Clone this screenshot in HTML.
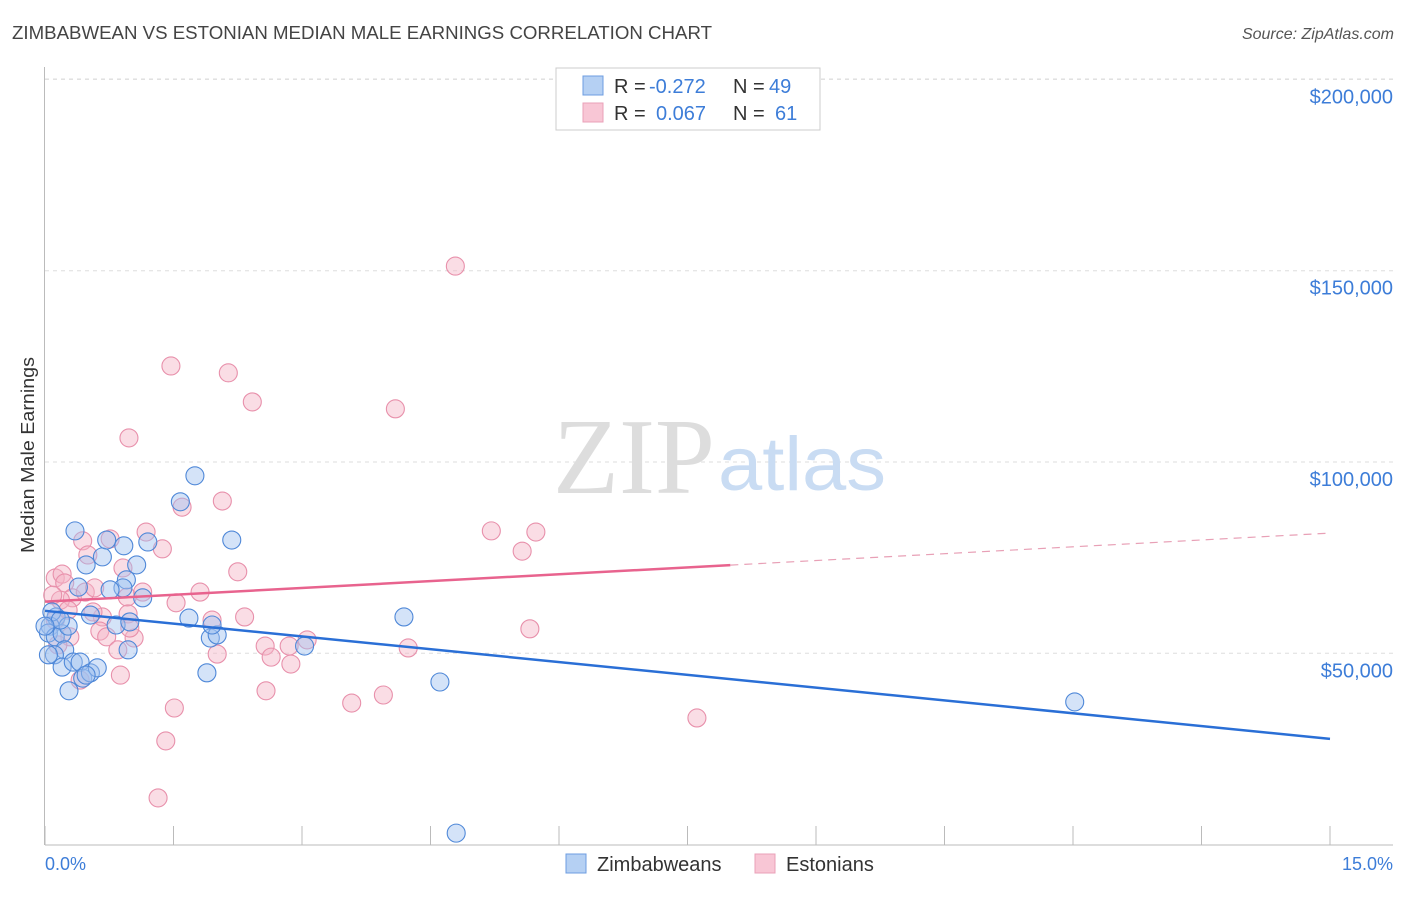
<!DOCTYPE html>
<html><head><meta charset="utf-8"><style>
body{margin:0;background:#fff;font-family:"Liberation Sans",sans-serif;}
svg text{font-family:"Liberation Sans",sans-serif;}
</style></head><body>
<svg id="chart" width="1406" height="892">
<text x="12" y="39" font-size="18" fill="#444" textLength="700" lengthAdjust="spacingAndGlyphs">ZIMBABWEAN VS ESTONIAN MEDIAN MALE EARNINGS CORRELATION CHART</text>
<text x="1394" y="39" font-size="16" fill="#555" text-anchor="end" font-style="italic">Source: ZipAtlas.com</text>
<g id="grid"></g>
<text x="553" y="493" font-size="108" fill="#ddd" style="font-family:'Liberation Serif',serif" textLength="162" lengthAdjust="spacingAndGlyphs">ZIP</text>
<text x="718" y="490" font-size="76" fill="#c9dcf3" textLength="168" lengthAdjust="spacingAndGlyphs">atlas</text>
<g id="pts"></g>
<g id="lines"></g>
<text transform="translate(34,455) rotate(-90)" font-size="18" fill="#333" text-anchor="middle" textLength="196" lengthAdjust="spacingAndGlyphs">Median Male Earnings</text>
<text x="45" y="870" font-size="18" fill="#3d7dd8">0.0%</text>
<text x="1393" y="870" font-size="18" fill="#3d7dd8" text-anchor="end">15.0%</text>
<g>
<rect x="556" y="68" width="264" height="62" fill="#fff" stroke="#ccc"/>
<rect x="583" y="76" width="20" height="19" fill="#b5d0f3" stroke="#6d9de0"/>
<rect x="583" y="103" width="20" height="19" fill="#f8c6d5" stroke="#eaa0b8"/>
<text x="614" y="93" font-size="20" fill="#333">R =</text><text x="649" y="93" font-size="20" fill="#3d7dd8">-0.272</text>
<text x="733" y="93" font-size="20" fill="#333">N =</text><text x="769" y="93" font-size="20" fill="#3d7dd8">49</text>
<text x="614" y="120" font-size="20" fill="#333">R =</text><text x="656" y="120" font-size="20" fill="#3d7dd8">0.067</text>
<text x="733" y="120" font-size="20" fill="#333">N =</text><text x="775" y="120" font-size="20" fill="#3d7dd8">61</text>
</g>
<g>
<rect x="566" y="854" width="20" height="19" fill="#b5d0f3" stroke="#6d9de0"/>
<text x="597" y="871" font-size="20" fill="#333">Zimbabweans</text>
<rect x="755" y="854" width="20" height="19" fill="#f8c6d5" stroke="#eaa0b8"/>
<text x="786" y="871" font-size="20" fill="#333">Estonians</text>
</g>
</svg>
<script>
const yTicks=[50000,100000,150000,200000];
const yTickLabels=["$50,000","$100,000","$150,000","$200,000"];
const xTicks=[0,1.5,3,4.5,6,7.5,9,10.5,12,13.5,15];
const blueX=[0.35,0.48,0.67,0.72,0.92,0.95,1.20,1.07,0.91,1.14,0.76,0.83,0.99,0.53,0.39,0.13,0.06,0.04,0.12,0.20,0.27,0.23,0.11,0.04,0.20,0.33,0.41,0.28,0.44,0.53,0.61,0.48,1.58,1.75,2.18,1.68,1.93,2.01,1.95,1.89,3.03,4.19,4.61,4.80,12.02,0.97,0.08,0.18,0.0];
const blueY=[82.0,73.1,75.2,79.6,78.1,69.2,79.1,73.1,67.1,64.5,66.6,57.4,58.2,60.0,67.3,59.5,57.1,55.3,54.3,55.1,57.1,50.9,49.6,49.6,46.4,47.7,47.7,40.2,43.5,44.9,46.2,44.3,89.6,96.4,79.6,59.2,54.0,54.8,57.4,44.9,51.9,59.5,42.5,3.0,37.3,50.9,60.8,58.7,57.1];
const pinkX=[4.79,1.47,2.14,2.42,4.09,0.98,2.07,1.60,5.21,5.73,5.57,1.18,0.76,0.44,1.37,0.50,0.12,0.20,0.23,0.32,0.47,0.58,0.96,0.91,1.14,1.81,1.53,0.67,0.56,0.97,2.33,1.95,0.64,0.72,1.04,0.85,2.01,2.57,2.85,3.06,2.64,2.87,4.24,5.66,0.18,0.12,0.27,2.25,2.58,3.58,3.95,1.51,1.41,1.32,7.61,0.09,0.29,0.99,0.15,0.88,0.41];
const pinkY=[151.2,125.1,123.3,115.7,113.9,106.3,89.8,88.2,82.0,81.7,76.7,81.7,79.9,79.4,77.3,75.7,69.7,70.7,68.4,64.5,66.0,67.1,64.7,72.3,66.0,66.0,63.2,59.5,60.8,60.3,59.5,58.7,55.8,54.3,54.0,50.9,49.8,51.9,51.9,53.5,49.0,47.2,51.4,56.4,63.9,58.7,61.3,71.3,40.2,37.0,39.1,35.7,27.1,12.2,33.1,65.2,54.3,56.6,52.2,44.3,43.0];
const NS="http://www.w3.org/2000/svg";
const X0=45,X1=1330,Y0=844.6,PX50=191.3;
function sx(p){return X0+(p/15)*(X1-X0);}
function sy(v){return Y0-(v/50000)*PX50;}
function mk(tag,attrs,parent){const e=document.createElementNS(NS,tag);for(const k in attrs)e.setAttribute(k,attrs[k]);parent.appendChild(e);return e;}
const grid=document.getElementById('grid');
yTicks.forEach((t,i)=>{
  const l=mk('line',{x1:45,x2:1393,y1:sy(t),y2:sy(t),stroke:'#ddd','stroke-dasharray':'4,4'},grid);
  
  
  const tx=mk('text',{x:1393,y:sy(t)+24,'font-size':20,fill:'#3d7dd8','text-anchor':'end'},grid);
  tx.textContent=yTickLabels[i];
  
  
});
const t0=mk('line',{x1:45,x2:1393,y1:79,y2:79,stroke:'#ddd','stroke-dasharray':'4,4'},grid);


const ya=mk('line',{x1:44.5,x2:44.5,y1:67,y2:845,stroke:'#bbb'},grid);


const xa=mk('line',{x1:45,x2:1393,y1:845,y2:845,stroke:'#bbb'},grid);


xTicks.forEach(t=>{
  const l=mk('line',{x1:sx(t),x2:sx(t),y1:826,y2:845,stroke:'#bbb'},grid);
  
  
});
const pts=document.getElementById('pts');
function series(xs,ys,fill,stroke,name){
  xs.forEach((x,i)=>{
    const c=mk('circle',{cx:sx(x),cy:sy(ys[i]*1000),r:9,fill:fill,'fill-opacity':0.45,stroke:stroke,'stroke-width':1.1},pts);
    
    
  });
}
series(pinkX,pinkY,'#f5b3c6','#e890ab','estonian-point');
series(blueX,blueY,'#9fc2ef','#4f88d8','zimbabwean-point');
function reg(xs,ys){const n=xs.length;let mx=0,my=0;for(let i=0;i<n;i++){mx+=xs[i];my+=ys[i];}mx/=n;my/=n;let a=0,b=0;for(let i=0;i<n;i++){a+=(xs[i]-mx)*(ys[i]-my);b+=(xs[i]-mx)**2;}const s=a/b;return [my-s*mx,s];}
const lines=document.getElementById('lines');
const [bi,bs]=reg(blueX,blueY);
const bl=mk('line',{x1:sx(0),y1:sy(bi*1000),x2:sx(15),y2:sy((bi+bs*15)*1000),stroke:'#2a6fd6','stroke-width':2.5},lines);


const [pi,ps]=reg(pinkX,pinkY);
const xe=8;
const pl=mk('line',{x1:sx(0),y1:sy(pi*1000),x2:sx(xe),y2:sy((pi+ps*xe)*1000),stroke:'#e8638e','stroke-width':2.5},lines);


const pd=mk('line',{x1:sx(xe),y1:sy((pi+ps*xe)*1000),x2:sx(15),y2:sy((pi+ps*15)*1000),stroke:'#e8a0b6','stroke-width':1.2,'stroke-dasharray':'8,6'},lines);


</script>
</body></html>
